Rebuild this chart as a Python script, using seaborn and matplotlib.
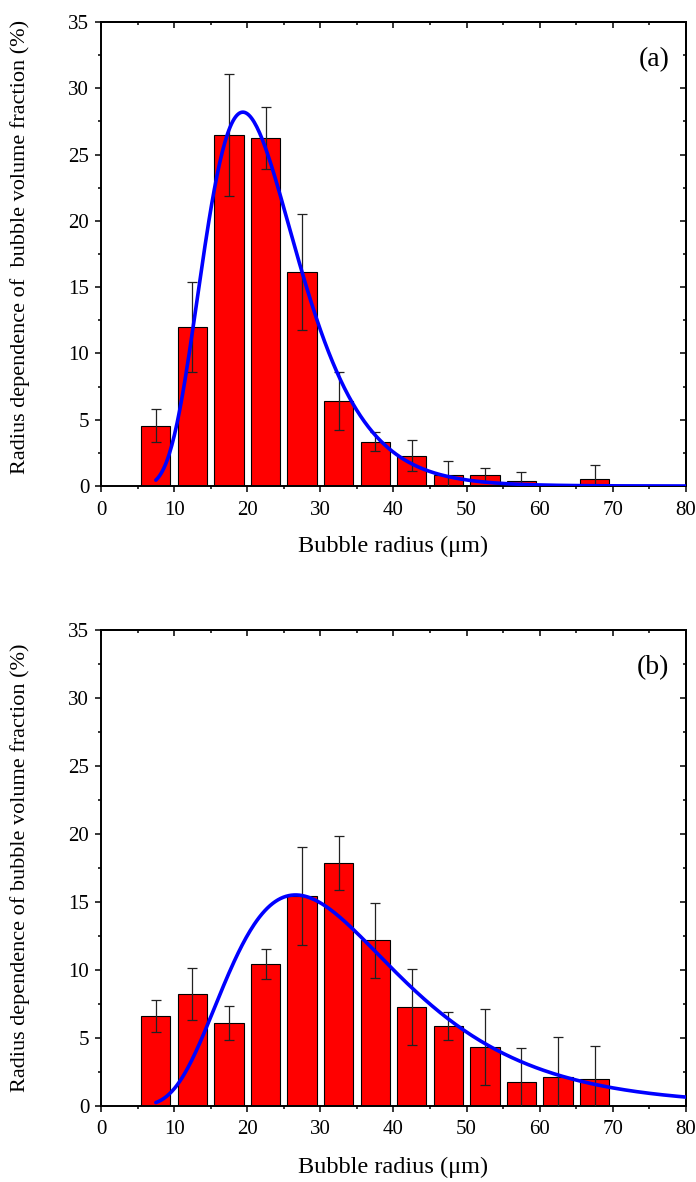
import numpy as np
import pandas as pd
import matplotlib
matplotlib.use("Agg")
import matplotlib.pyplot as plt
from matplotlib.ticker import MultipleLocator
import seaborn as sns

# Panel (a): bin centres (um), volume fraction (%) and its error
radius_a = [7.5, 12.5, 17.5, 22.5, 27.5, 32.5, 37.5, 42.5, 47.5, 52.5, 57.5, 67.5]
frac_a = [4.55, 12.0, 26.45, 26.25, 16.15, 6.4, 3.35, 2.3, 0.8, 0.83, 0.35, 0.55]
err_a = [1.25, 3.4, 4.6, 2.35, 4.4, 2.2, 0.7, 1.15, 1.1, 0.53, 0.68, 1.05]

# Panel (b)
radius_b = [7.5, 12.5, 17.5, 22.5, 27.5, 32.5, 37.5, 42.5, 47.5, 52.5, 57.5, 62.5, 67.5]
frac_b = [6.6, 8.2, 6.05, 10.4, 15.45, 17.85, 12.15, 7.25, 5.85, 4.3, 1.77, 2.13, 1.94]
err_b = [1.17, 1.9, 1.25, 1.1, 3.6, 2.0, 2.75, 2.8, 1.05, 2.8, 2.45, 2.95, 2.47]

# Log-normal fit parameters: peak height (%), peak radius (um), width
fit_a = (28.2, 19.4, 0.33)
fit_b = (15.5, 26.6, 0.435)
fit_start = 7.5

x_ticks = [0, 10, 20, 30, 40, 50, 60, 70, 80]
y_ticks = [0, 5, 10, 15, 20, 25, 30, 35]

ylabel_a = "Radius dependence of  bubble volume fraction (%)"
ylabel_b = "Radius dependence of bubble volume fraction (%)"
xlabel = "Bubble radius (\u03bcm)"

sns.set_theme(style="ticks")
plt.rcParams["font.family"] = ["Liberation Serif", "DejaVu Serif"]

fig = plt.figure(figsize=(6.96, 11.82), dpi=100)
ax_a = fig.add_axes([0.1451, 0.5888, 0.8405, 0.3926])
ax_b = fig.add_axes([0.1451, 0.0646, 0.8405, 0.4025])


def lognormal(x, amp, xc, w):
    return amp * np.exp(-(np.log(x / xc)) ** 2 / (2 * w ** 2))


def draw_panel(ax, radius, frac, err, fit, ylabel, tag):
    df = pd.DataFrame({"radius": radius, "fraction": frac})
    sns.barplot(data=df, x="radius", y="fraction", native_scale=True,
                width=0.8, color="#FF0000", saturation=1, edgecolor="black",
                linewidth=0.8, errorbar=None, ax=ax, zorder=2)
    ax.errorbar(radius, frac, yerr=err, fmt="none", ecolor="#222222",
                elinewidth=0.9, capsize=3.5, capthick=0.9, zorder=3)
    xs = np.linspace(fit_start, x_ticks[-1], 400)
    sns.lineplot(x=xs, y=lognormal(xs, *fit), color="#0000FF", lw=2.6,
                 ax=ax, zorder=4)

    ax.set_xlim(x_ticks[0], x_ticks[-1])
    ax.set_ylim(y_ticks[0], y_ticks[-1])
    ax.set_xticks(x_ticks)
    ax.set_yticks(y_ticks)
    ax.xaxis.set_minor_locator(MultipleLocator(5))
    ax.yaxis.set_minor_locator(MultipleLocator(2.5))
    ax.tick_params(which="major", direction="out", length=4.5, width=1.1,
                   labelsize=15, color="black", labelcolor="black", pad=4)
    ax.tick_params(axis="x", which="major", pad=6)
    ax.tick_params(which="minor", direction="out", length=2.5, width=1.1,
                   color="black")
    for side in ["left", "right", "top", "bottom"]:
        ax.spines[side].set_visible(True)
        ax.spines[side].set_linewidth(1.4)
        ax.spines[side].set_color("black")

    top = ax.secondary_xaxis("top")
    top.set_xticks(x_ticks)
    top.xaxis.set_minor_locator(MultipleLocator(5))
    top.tick_params(which="major", direction="in", length=4.5, width=1.1,
                    labeltop=False, color="black")
    top.tick_params(which="minor", direction="in", length=2.5, width=1.1,
                    color="black")
    right = ax.secondary_yaxis("right")
    right.set_yticks(y_ticks)
    right.yaxis.set_minor_locator(MultipleLocator(2.5))
    right.tick_params(which="major", direction="in", length=4.5, width=1.1,
                      labelright=False, color="black")
    right.tick_params(which="minor", direction="in", length=2.5, width=1.1,
                      color="black")
    for sec in (top, right):
        for sp in sec.spines.values():
            sp.set_linewidth(1.4)
            sp.set_color("black")

    ax.set_xlabel(xlabel, fontsize=17.5, color="black", va="center")
    ax.set_ylabel(ylabel, fontsize=16, color="black", va="center")
    ax.text(0.972, 0.92, tag, transform=ax.transAxes, ha="right",
            va="center", fontsize=20, color="black")


draw_panel(ax_a, radius_a, frac_a, err_a, fit_a, ylabel_a, "(a)")
draw_panel(ax_b, radius_b, frac_b, err_b, fit_b, ylabel_b, "(b)")

ax_a.xaxis.set_label_coords(0.5, (486 - 546) / 464)
ax_a.yaxis.set_label_coords((20 - 101) / 585, 0.515)
ax_b.xaxis.set_label_coords(0.5, (1105.7 - 1167) / 475.7)
ax_b.yaxis.set_label_coords((20 - 101) / 585, 0.5)

fig.savefig("out.png", dpi=100)
